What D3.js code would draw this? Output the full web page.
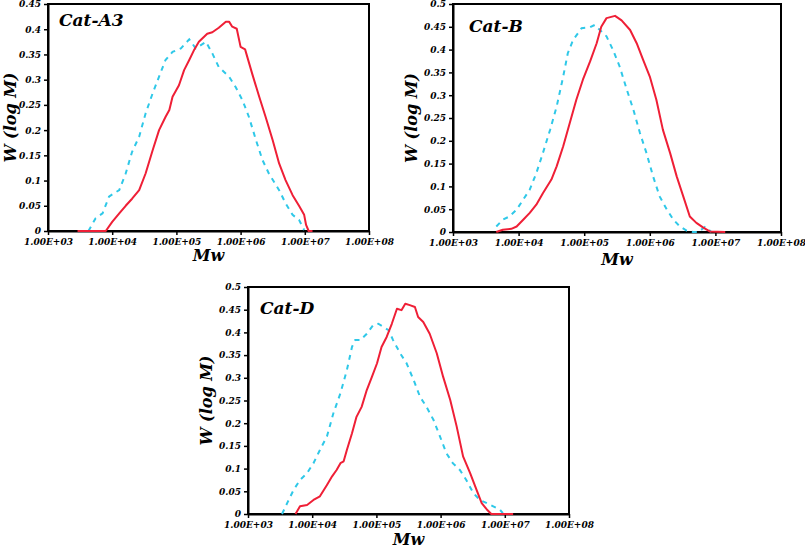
<!DOCTYPE html>
<html>
<head>
<meta charset="utf-8">
<script src="https://cdn.jsdelivr.net/npm/d3@7"></script>
<style>
  html, body { margin: 0; padding: 0; background: #fff; }
  svg text { font-family: "DejaVu Serif", Georgia, serif; font-weight: bold; font-style: italic; }
</style>
</head>
<body>
<svg id="chart" width="805" height="550"></svg>
<script>
// ---------- DATA (log10 Mw and W(log M)) ----------
const xTickValues = [1e3, 1e4, 1e5, 1e6, 1e7, 1e8];
const yTicksA3 = [0, 0.05, 0.1, 0.15, 0.2, 0.25, 0.3, 0.35, 0.4, 0.45];
const yTicksBD = [0, 0.05, 0.1, 0.15, 0.2, 0.25, 0.3, 0.35, 0.4, 0.45, 0.5];

// Cat-A3
const a3RedLogM = [3.46, 3.90, 4.00, 4.11, 4.21, 4.31, 4.42, 4.52, 4.63, 4.73, 4.83, 4.89, 4.94, 5.04, 5.12, 5.20, 5.28, 5.35, 5.48, 5.56, 5.66, 5.77, 5.82, 5.87, 5.94, 6.00, 6.07, 6.18, 6.29, 6.39, 6.50, 6.60, 6.70, 6.81, 6.91, 6.99, 7.02, 7.06, 7.12];
const a3RedW    = [0, 0, 0.018, 0.035, 0.050, 0.064, 0.081, 0.114, 0.160, 0.200, 0.226, 0.240, 0.266, 0.289, 0.319, 0.339, 0.360, 0.375, 0.391, 0.394, 0.403, 0.415, 0.415, 0.405, 0.401, 0.365, 0.360, 0.312, 0.266, 0.226, 0.180, 0.134, 0.101, 0.071, 0.050, 0.032, 0.012, 0, 0];
const a3CyanLogM = [3.63, 3.74, 3.85, 3.95, 4.03, 4.11, 4.21, 4.31, 4.42, 4.52, 4.63, 4.73, 4.83, 4.94, 5.07, 5.20, 5.30, 5.46, 5.56, 5.66, 5.82, 5.92, 6.03, 6.13, 6.24, 6.34, 6.44, 6.60, 6.70, 6.81, 6.91, 6.99];
const a3CyanW    = [0, 0.025, 0.035, 0.068, 0.075, 0.081, 0.114, 0.157, 0.187, 0.233, 0.273, 0.306, 0.339, 0.355, 0.362, 0.380, 0.362, 0.375, 0.352, 0.325, 0.306, 0.286, 0.259, 0.226, 0.180, 0.141, 0.114, 0.081, 0.055, 0.032, 0.022, 0.002];

// Cat-B
const bRedLogM = [3.66, 3.76, 3.89, 3.97, 4.07, 4.17, 4.27, 4.37, 4.50, 4.58, 4.68, 4.78, 4.88, 4.98, 5.09, 5.19, 5.26, 5.34, 5.47, 5.57, 5.70, 5.80, 5.90, 6.00, 6.10, 6.20, 6.31, 6.41, 6.51, 6.61, 6.71, 6.81, 6.92, 7.15];
const bRedW    = [0, 0.005, 0.007, 0.012, 0.027, 0.042, 0.060, 0.085, 0.115, 0.144, 0.188, 0.239, 0.290, 0.334, 0.374, 0.414, 0.450, 0.469, 0.474, 0.464, 0.443, 0.414, 0.377, 0.341, 0.290, 0.224, 0.173, 0.122, 0.078, 0.034, 0.020, 0.010, 0.001, 0];
const bCyanLogM = [3.66, 3.76, 3.86, 3.97, 4.07, 4.17, 4.27, 4.37, 4.48, 4.58, 4.68, 4.75, 4.83, 4.96, 5.09, 5.16, 5.24, 5.34, 5.44, 5.54, 5.65, 5.75, 5.85, 5.95, 6.05, 6.15, 6.26, 6.36, 6.46, 6.56, 6.66, 6.74, 6.84, 6.94];
const bCyanW    = [0.012, 0.027, 0.034, 0.049, 0.071, 0.093, 0.129, 0.173, 0.224, 0.275, 0.341, 0.392, 0.421, 0.447, 0.449, 0.454, 0.443, 0.429, 0.399, 0.363, 0.312, 0.268, 0.217, 0.173, 0.122, 0.078, 0.049, 0.027, 0.012, 0.003, 0, 0, 0.011, 0];

// Cat-D
const dRedLogM = [3.74, 3.81, 3.92, 4.02, 4.12, 4.23, 4.31, 4.38, 4.44, 4.49, 4.54, 4.62, 4.69, 4.77, 4.85, 4.93, 5.01, 5.08, 5.16, 5.24, 5.32, 5.39, 5.45, 5.52, 5.60, 5.65, 5.73, 5.83, 5.94, 6.04, 6.15, 6.25, 6.35, 6.46, 6.56, 6.64, 6.72, 6.79, 7.13];
const dRedW    = [0, 0.017, 0.020, 0.031, 0.039, 0.064, 0.083, 0.097, 0.112, 0.116, 0.141, 0.178, 0.214, 0.236, 0.273, 0.302, 0.332, 0.368, 0.390, 0.419, 0.452, 0.449, 0.463, 0.460, 0.456, 0.434, 0.423, 0.397, 0.354, 0.302, 0.251, 0.193, 0.127, 0.090, 0.053, 0.024, 0.010, 0, 0];
const dCyanLogM = [3.53, 3.61, 3.71, 3.81, 3.92, 4.02, 4.12, 4.23, 4.33, 4.44, 4.54, 4.62, 4.67, 4.75, 4.85, 4.95, 5.03, 5.11, 5.19, 5.26, 5.37, 5.47, 5.58, 5.68, 5.78, 5.89, 5.99, 6.09, 6.19, 6.30, 6.40, 6.51, 6.61, 6.72, 6.82, 6.92, 6.97];
const dCyanW    = [0, 0.024, 0.053, 0.075, 0.090, 0.112, 0.141, 0.171, 0.222, 0.266, 0.317, 0.368, 0.383, 0.383, 0.397, 0.416, 0.419, 0.412, 0.405, 0.383, 0.354, 0.332, 0.295, 0.258, 0.236, 0.207, 0.171, 0.134, 0.112, 0.097, 0.075, 0.046, 0.031, 0.024, 0.017, 0.010, 0.002];

// ---------- DRAWING ----------
const RED = "#ef1f36";
const CYAN = "#2fc8e8";
const svg = d3.select("#chart");

const panels = [
  { title: "Cat-A3", left: 48, right: 369, top: 4, bottom: 231, yMax: 0.45, yTicks: yTicksA3,
    titleX: 59, titleY: 26, mwY: 261, wX: 11,
    red: [a3RedLogM, a3RedW], cyan: [a3CyanLogM, a3CyanW] },
  { title: "Cat-B", left: 453, right: 781, top: 4, bottom: 232, yMax: 0.5, yTicks: yTicksBD,
    titleX: 469, titleY: 32, mwY: 265, wX: 412,
    red: [bRedLogM, bRedW], cyan: [bCyanLogM, bCyanW] },
  { title: "Cat-D", left: 248, right: 569, top: 287, bottom: 514, yMax: 0.5, yTicks: yTicksBD,
    titleX: 260, titleY: 314, mwY: 545, wX: 207,
    red: [dRedLogM, dRedW], cyan: [dCyanLogM, dCyanW] }
];

const fmtX = v => {
  const e = Math.round(Math.log10(v));
  return "1.00E+" + (e < 10 ? "0" + e : e);
};
const fmtY = v => v === 0 ? "0" : d3.format("")(+v.toFixed(2));

panels.forEach(p => {
  const x = d3.scaleLog().domain([1e3, 1e8]).range([p.left, p.right]);
  const y = d3.scaleLinear().domain([0, p.yMax]).range([p.bottom, p.top]);
  const g = svg.append("g");

  // frame
  g.append("rect")
    .attr("x", p.left).attr("y", p.top)
    .attr("width", p.right - p.left).attr("height", p.bottom - p.top)
    .attr("fill", "none").attr("stroke", "#000").attr("stroke-width", 2);

  // x axis
  const xAxis = g.append("g")
    .attr("transform", `translate(0,${p.bottom})`)
    .call(d3.axisBottom(x).tickValues(xTickValues).tickFormat(fmtX).tickSize(4).tickSizeOuter(0).tickPadding(4));
  xAxis.select(".domain").attr("stroke-width", 2);
  xAxis.selectAll(".tick line").attr("stroke-width", 1.5);
  xAxis.selectAll("text").attr("font-size", 9).attr("fill", "#000")
    .style("font-family", '"DejaVu Serif", serif').style("font-weight", "bold").style("font-style", "italic");

  // y axis
  const yAxis = g.append("g")
    .attr("transform", `translate(${p.left},0)`)
    .call(d3.axisLeft(y).tickValues(p.yTicks).tickFormat(fmtY).tickSize(4).tickSizeOuter(0).tickPadding(3));
  yAxis.select(".domain").attr("stroke-width", 2);
  yAxis.selectAll(".tick line").attr("stroke-width", 1.5);
  yAxis.selectAll("text").attr("font-size", 9).attr("fill", "#000")
    .style("font-family", '"DejaVu Serif", serif').style("font-weight", "bold").style("font-style", "italic");

  const line = d3.line().x(d => x(Math.pow(10, d[0]))).y(d => y(d[1]));
  const cyanPts = d3.zip(p.cyan[0], p.cyan[1]);
  const redPts = d3.zip(p.red[0], p.red[1]);

  g.append("path").datum(cyanPts).attr("d", line)
    .attr("fill", "none").attr("stroke", CYAN).attr("stroke-width", 2)
    .attr("stroke-dasharray", "5,5");
  g.append("path").datum(redPts).attr("d", line)
    .attr("fill", "none").attr("stroke", RED).attr("stroke-width", 2)
    .attr("stroke-linejoin", "round");

  // panel title
  g.append("text").attr("x", p.titleX).attr("y", p.titleY)
    .attr("font-size", 17).attr("fill", "#000").text(p.title);

  // axis titles
  g.append("text").attr("x", (p.left + p.right) / 2).attr("y", p.mwY)
    .attr("text-anchor", "middle").attr("font-size", 16).attr("fill", "#000").text("Mw");
  g.append("text")
    .attr("transform", `translate(${p.wX},${(p.top + p.bottom) / 2}) rotate(-90)`)
    .attr("text-anchor", "middle").attr("dominant-baseline", "middle")
    .attr("font-size", 16).attr("fill", "#000").text("W (log M)");
});
</script>
</body>
</html>
